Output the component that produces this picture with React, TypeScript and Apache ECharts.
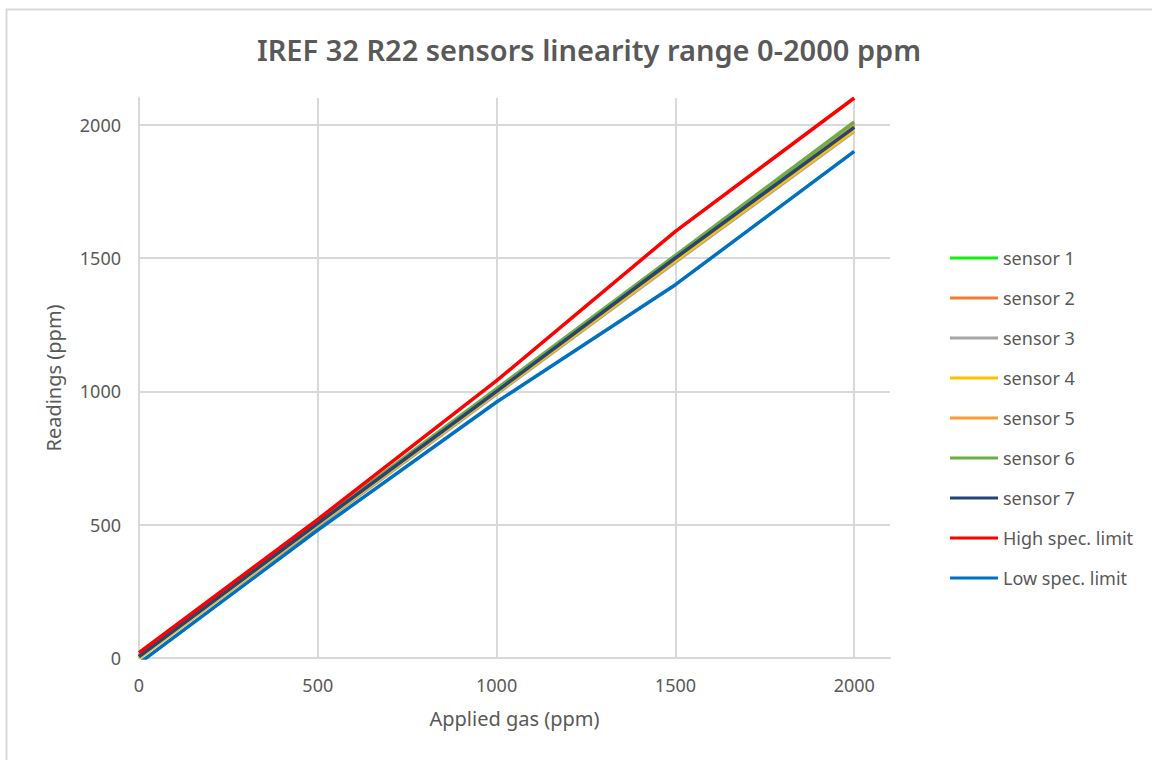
import React, { useEffect, useRef } from "react";
import * as echarts from "echarts";

const applied = [0, 500, 1000, 1500, 2000];
const sensor1 = [5, 505, 1000, 1500, 1995];
const sensor2 = [5, 505, 1000, 1495, 2000];
const sensor3 = [0, 495, 990, 1485, 1975];
const sensor4 = [0, 500, 995, 1490, 1980];
const sensor5 = [5, 505, 1005, 1500, 2000];
const sensor6 = [10, 510, 1010, 1510, 2010];
const sensor7 = [5, 505, 1000, 1500, 1990];
const highLimit = [20, 520, 1040, 1600, 2100];
const lowLimit = [-20, 480, 960, 1400, 1900];

const seriesNames = [
  "sensor 1",
  "sensor 2",
  "sensor 3",
  "sensor 4",
  "sensor 5",
  "sensor 6",
  "sensor 7",
  "High spec. limit",
  "Low spec. limit",
];
const seriesValues = [sensor1, sensor2, sensor3, sensor4, sensor5, sensor6, sensor7, highLimit, lowLimit];
const seriesColors = ["#11EE11", "#ED7D31", "#A5A5A5", "#FFC000", "#FF9A3C", "#70AD47", "#264478", "#FF0000", "#0070C0"];

const FONT = "'Noto Sans', sans-serif";
const GRID = "#D9D9D9";
const TEXT = "#595959";

export default function App() {
  const ref = useRef<HTMLDivElement>(null);
  useEffect(() => {
    if (!ref.current) return;
    const chart = echarts.init(ref.current, null, { renderer: "svg" });
    const gridColors = [GRID, GRID, GRID, GRID, GRID, "rgba(0,0,0,0)"];
    chart.setOption({
      animation: false,
      backgroundColor: "#fff",
      textStyle: { fontFamily: FONT },
      title: {
        text: "IREF 32 R22 sensors linearity range 0-2000 ppm",
        left: 584,
        top: 30,
        textAlign: "center",
        textStyle: { fontFamily: FONT, fontSize: 29, fontWeight: 600, color: TEXT },
      },
      graphic: [
        {
          type: "rect",
          shape: { x: 6.5, y: 9.5, width: 1300, height: 900 },
          style: { fill: "none", stroke: "#D9D9D9", lineWidth: 2 },
          silent: true,
        },
      ],
      grid: { left: 139, right: 262, top: 98, bottom: 102 },
      legend: {
        orient: "vertical",
        left: 945,
        top: 243,
        icon: "rect",
        itemWidth: 48,
        itemHeight: 3,
        itemGap: 20,
        textStyle: { fontFamily: FONT, fontSize: 18, color: TEXT, lineHeight: 20 },
        data: seriesNames,
      },
      xAxis: {
        type: "value",
        min: 0,
        max: 2100,
        interval: 500,
        name: "Applied gas (ppm)",
        nameLocation: "middle",
        nameGap: 50,
        nameTextStyle: { fontFamily: FONT, fontSize: 20, color: TEXT },
        axisLine: { show: true, lineStyle: { color: GRID, width: 2 } },
        axisTick: { show: false },
        axisLabel: { fontFamily: FONT, fontSize: 18, color: TEXT, margin: 18, showMaxLabel: false, formatter: (v: number) => String(v) },
        splitLine: { show: true, lineStyle: { color: gridColors, width: 2 } },
      },
      yAxis: {
        type: "value",
        min: 0,
        max: 2100,
        interval: 500,
        name: "Readings (ppm)",
        nameLocation: "middle",
        nameGap: 76,
        nameTextStyle: { fontFamily: FONT, fontSize: 20, color: TEXT },
        axisLine: { show: true, lineStyle: { color: GRID, width: 2 } },
        axisTick: { show: false },
        axisLabel: { fontFamily: FONT, fontSize: 18, color: TEXT, margin: 18, showMaxLabel: false, formatter: (v: number) => String(v) },
        splitLine: { show: true, lineStyle: { color: gridColors, width: 2 } },
      },
      series: seriesNames.map((name, i) => ({
        name,
        type: "line",
        symbol: "none",
        color: seriesColors[i],
        lineStyle: { width: 3.5, color: seriesColors[i] },
        data: applied.map((x, j) => [x, seriesValues[i][j]]),
      })),
    });
    return () => chart.dispose();
  }, []);
  return (
    <div
      ref={ref}
      style={{ position: "absolute", left: 0, top: 0, width: 1152, height: 760 }}
    />
  );
}
